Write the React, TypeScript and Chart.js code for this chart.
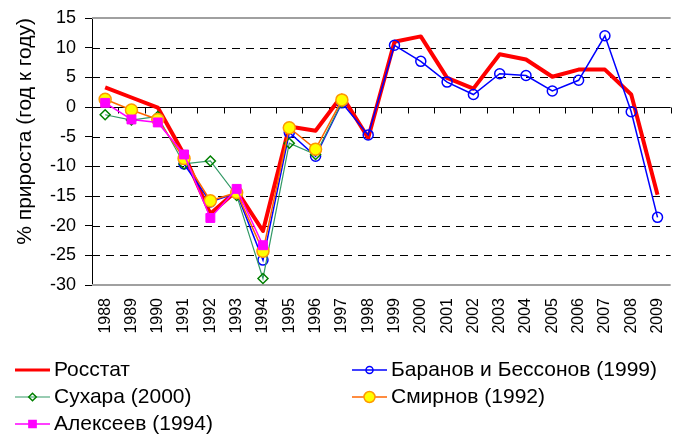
import React, { useEffect, useRef } from 'react';
import { Chart, registerables } from 'chart.js';

Chart.register(...registerables);

const FONT = '"Liberation Sans", Arial, sans-serif';

const years = ['1988', '1989', '1990', '1991', '1992', '1993', '1994', '1995', '1996', '1997', '1998',
  '1999', '2000', '2001', '2002', '2003', '2004', '2005', '2006', '2007', '2008', '2009'];

const rosstat = [3.3, 1.6, -0.1, -8.0, -18.0, -14.1, -20.9, -3.3, -4.0, 1.9, -5.2,
  11.0, 11.9, 4.9, 3.1, 8.9, 8.0, 5.1, 6.3, 6.3, 2.1, -14.8];

const baranov = [null, null, null, -9.6, -16.0, -14.5, -25.8, -4.3, -8.3, 0.7, -4.7,
  10.4, 7.7, 4.2, 2.1, 5.6, 5.3, 2.7, 4.5, 12.0, -0.8, -18.6];

const sukhara = [-1.3, -2.2, -1.6, -9.6, -9.1, -14.9, -28.9, -6.1, -8.0, 0.8, null,
  null, null, null, null, null, null, null, null, null, null, null];

const smirnov = [1.3, -0.5, -2.1, -8.7, -15.8, -14.4, -24.3, -3.5, -7.1, 1.2, null,
  null, null, null, null, null, null, null, null, null, null, null];

const alekseev = [0.7, -2.1, -2.6, -8.0, -18.7, -13.8, -23.3, null, null, null, null,
  null, null, null, null, null, null, null, null, null, null, null];

const yTicks = [15, 10, 5, 0, -5, -10, -15, -20, -25, -30];
const Y_MAX = 15;
const Y_MIN = -30;

const seriesNames = ['Росстат', 'Баранов и Бессонов (1999)', 'Сухара (2000)', 'Смирнов (1992)', 'Алексеев (1994)'];
const axisTitle = '% прироста (год к году)';

// legend layout: [series index, column x, row y]
const legendLayout: [number, number, number][] = [
  [0, 15, 370],
  [1, 352, 370],
  [2, 15, 397],
  [3, 352, 397],
  [4, 15, 424],
];

const styles = [
  { line: '#ff0000', lw: 4, marker: 'none', mFill: '', mStroke: '', mSize: 0 },
  { line: '#0000ff', lw: 1.5, marker: 'circle', mFill: 'rgba(0,0,0,0)', mStroke: '#0000ff', mSize: 3.5 },
  { line: '#339966', lw: 1.2, marker: 'diamond', mFill: 'rgba(0,0,0,0)', mStroke: '#008000', mSize: 3.8 },
  { line: '#ff6600', lw: 1.5, marker: 'circle', mFill: '#ffff00', mStroke: '#ff9900', mSize: 5.5 },
  { line: '#ff00ff', lw: 1.5, marker: 'square', mFill: '#ff00ff', mStroke: '#ff00ff', mSize: 3.6 },
];

const gridPlugin = {
  id: 'refGrid',
  beforeDatasetsDraw(chart: any) {
    const { ctx, chartArea, scales } = chart;
    const { left, right } = chartArea;
    const x = scales.x;
    const y = scales.y;
    ctx.save();
    ctx.strokeStyle = '#000';
    ctx.lineWidth = 1;
    ctx.setLineDash([8, 6]);
    yTicks.forEach((v) => {
      if (v === 0 || v === Y_MAX || v === Y_MIN) return;
      const py = Math.round(y.getPixelForValue(v)) + 0.5;
      ctx.beginPath();
      ctx.moveTo(left, py);
      ctx.lineTo(right, py);
      ctx.stroke();
    });
    ctx.setLineDash([]);
    ctx.strokeStyle = '#a0a0a0';
    ctx.lineWidth = 2;
    [Y_MAX, Y_MIN].forEach((v) => {
      const py = Math.round(y.getPixelForValue(v));
      ctx.beginPath();
      ctx.moveTo(left, py);
      ctx.lineTo(right, py);
      ctx.stroke();
    });
    ctx.strokeStyle = '#000';
    ctx.lineWidth = 1;
    const z = Math.round(y.getPixelForValue(0)) + 0.5;
    ctx.beginPath();
    ctx.moveTo(left, z);
    ctx.lineTo(right, z);
    for (let i = 0; i <= years.length; i++) {
      const px = Math.round(x.getPixelForValue(i - 0.5)) + 0.5;
      ctx.moveTo(px, z);
      ctx.lineTo(px, z + 6);
    }
    ctx.stroke();
    ctx.restore();
  },
};

function drawMarker(ctx: CanvasRenderingContext2D, kind: string, cx: number, cy: number, s: number, fill: string, stroke: string) {
  if (kind === 'none') return;
  ctx.beginPath();
  if (kind === 'circle') {
    ctx.arc(cx, cy, s, 0, Math.PI * 2);
  } else if (kind === 'diamond') {
    ctx.moveTo(cx - s, cy);
    ctx.lineTo(cx, cy - s);
    ctx.lineTo(cx + s, cy);
    ctx.lineTo(cx, cy + s);
    ctx.closePath();
  } else if (kind === 'square') {
    ctx.rect(cx - s, cy - s, 2 * s, 2 * s);
  }
  ctx.fillStyle = fill;
  ctx.fill();
  ctx.strokeStyle = stroke;
  ctx.lineWidth = 1.5;
  ctx.stroke();
}

const legendPlugin = {
  id: 'refLegend',
  afterDraw(chart: any) {
    const ctx: CanvasRenderingContext2D = chart.ctx;
    ctx.save();
    legendLayout.forEach(([idx, lx, ly]) => {
      const st = styles[idx];
      ctx.strokeStyle = st.line;
      ctx.lineWidth = idx === 0 ? 3 : st.lw;
      ctx.beginPath();
      ctx.moveTo(lx, ly);
      ctx.lineTo(lx + 35, ly);
      ctx.stroke();
      drawMarker(ctx, st.marker, lx + 17.5, ly, st.mSize, st.mFill, st.mStroke);
      ctx.fillStyle = '#000';
      ctx.font = `21px ${FONT}`;
      ctx.textBaseline = 'middle';
      ctx.textAlign = 'left';
      ctx.fillText(seriesNames[idx], lx + 39, ly);
    });
    ctx.restore();
  },
};

export default function App() {
  const ref = useRef<HTMLCanvasElement>(null);
  useEffect(() => {
    const canvas = ref.current;
    if (!canvas) return;
    const chart = new Chart(canvas, {
      type: 'line',
      data: {
        labels: years,
        datasets: [
          {
            label: seriesNames[0], data: rosstat, borderColor: styles[0].line, borderWidth: 4,
            pointRadius: 0, order: 5, tension: 0, borderJoinStyle: 'round',
          },
          {
            label: seriesNames[1], data: baranov, borderColor: styles[1].line, borderWidth: 1.5,
            pointStyle: 'circle', pointRadius: 5, pointBorderWidth: 1.5,
            pointBackgroundColor: 'rgba(0,0,0,0)', pointBorderColor: '#0000ff', order: 4,
          },
          {
            label: seriesNames[2], data: sukhara, borderColor: styles[2].line, borderWidth: 1.2,
            pointStyle: 'rectRot', pointRadius: 5, pointBorderWidth: 1.5,
            pointBackgroundColor: 'rgba(0,0,0,0)', pointBorderColor: '#008000', order: 3,
          },
          {
            label: seriesNames[3], data: smirnov, borderColor: styles[3].line, borderWidth: 1.5,
            pointStyle: 'circle', pointRadius: 6, pointBorderWidth: 1.5,
            pointBackgroundColor: '#ffff00', pointBorderColor: '#ff9900', order: 2,
          },
          {
            label: seriesNames[4], data: alekseev, borderColor: styles[4].line, borderWidth: 1.5,
            pointStyle: 'rect', pointRadius: 6.3, pointBorderWidth: 1,
            pointBackgroundColor: '#ff00ff', pointBorderColor: '#ff00ff', order: 1,
          },
        ],
      },
      options: {
        responsive: false,
        animation: false,
        events: [],
        layout: { padding: { top: 9, right: 12, left: 0, bottom: 0 } },
        plugins: { legend: { display: false }, tooltip: { enabled: false } },
        scales: {
          x: {
            type: 'category',
            offset: true,
            grid: { display: false, drawTicks: false },
            border: { display: false },
            ticks: {
              autoSkip: false, minRotation: 90, maxRotation: 90, padding: 13, color: '#000',
              font: { family: FONT, size: 16 },
            },
            afterFit: (s: any) => { s.height = 152; },
          },
          y: {
            min: Y_MIN,
            max: Y_MAX,
            ticks: { stepSize: 5, padding: 9, color: '#000', font: { family: FONT, size: 18, lineHeight: 1 } },
            grid: { drawOnChartArea: false, drawTicks: true, tickLength: 7, color: '#000' },
            border: { display: true, color: '#000', width: 1 },
            title: {
              display: true, text: axisTitle, color: '#000', align: 'end',
              font: { family: FONT, size: 21 }, padding: { top: 13, bottom: 0 },
            },
            afterFit: (s: any) => { s.width = 92; },
          },
        },
      },
      plugins: [gridPlugin, legendPlugin],
    } as any);
    return () => chart.destroy();
  }, []);
  return (
    <div style={{ position: 'fixed', left: 0, top: 0, width: 675, height: 437, overflow: 'hidden', background: '#fff' }}>
      <canvas ref={ref} width={690} height={437} style={{ display: 'block', width: 690, height: 437 }} />
    </div>
  );
}
